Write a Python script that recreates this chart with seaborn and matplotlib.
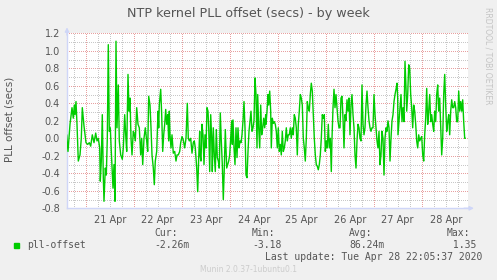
import pandas as pd
import seaborn as sns
import matplotlib.pyplot as plt
import matplotlib.dates as mdates
from matplotlib.ticker import MultipleLocator, FuncFormatter
from matplotlib.patches import Rectangle

# Munin "by week" graph style
sns.set_style("white")
plt.rcParams["font.family"] = ["DejaVu Sans"]

# ── data: hours since 20 Apr 2020 00:00 and offset in seconds ──
START = pd.Timestamp("2020-04-20 00:00")

hours = [
    # 20 Apr -> 21 Apr
    14.5, 15.15, 16.15, 17.15, 17.8, 18.3, 18.65, 19.15, 19.65, 20.3, 21.15, 21.8, 22.3, 23.15,
    24.15, 25.0, 25.8, 26.5, 27.3, 28.15, 29.0, 29.65, 30.3, 31.0, 31.3, 31.8, 32.3, 32.8,
    33.15, 33.8, 34.3, 34.8, 35.3, 35.8, 36.3, 36.8, 37.65, 38.15, 38.65, 39.15, 39.65, 40.3,
    40.8, 41.5, 42.3, 42.8, 43.5, 44.0, 44.5, 45.15, 45.65, 46.15, 46.65, 47.15, 47.8,
    # 22 Apr
    48.15, 48.8, 49.5, 50.15, 50.8, 51.5, 52.0, 52.5, 53.15, 53.8, 54.5, 55.0, 55.5, 56.15,
    56.65, 57.15, 57.8, 58.3, 58.8, 59.5, 60.15, 60.5, 60.8, 61.5, 62.0, 62.5, 63.0, 63.5,
    64.0, 64.5, 65.0, 65.5, 65.8, 66.15, 66.65, 67.15, 67.8, 68.5, 69.15, 69.65, 70.3, 71.0,
    71.5, 72.15, 72.8, 73.5, 74.15, 74.8, 75.3, 75.8, 76.5, 77.15, 77.8, 78.3, 78.8, 79.5,
    80.0, 80.5, 81.0,
    # 23 Apr
    81.15, 81.65, 82.15, 82.65, 83.15, 83.65, 84.15, 84.65, 85.15, 85.5, 86.0, 86.5, 87.0,
    87.3, 87.8, 88.3, 88.8, 89.3, 89.8, 90.3, 90.8, 91.3, 91.8, 92.3, 92.8, 93.3, 93.8, 94.5,
    95.0, 95.5, 96.0, 96.5, 97.0, 97.3, 97.65, 98.15, 98.65, 99.15, 99.65, 100.15, 100.65,
    101.15, 101.65, 102.15, 102.65, 103.15, 103.65, 104.15, 104.65, 105.15, 105.65, 106.15,
    106.65, 107.15, 107.65, 108.15, 108.65, 109.15, 109.65, 110.0, 110.5, 111.0, 111.5,
    112.0, 112.5, 113.0, 113.5, 114.0,
    # 24-25 Apr
    114.15, 114.65, 115.15, 115.5, 116.0, 116.5, 116.8, 117.3, 117.8, 118.3, 118.8, 119.3,
    119.8, 120.3, 120.8, 121.3, 121.8, 122.3, 122.8, 123.3, 123.8, 124.3, 124.8, 125.3,
    125.8, 126.3, 126.8, 127.3, 127.8, 128.3, 128.8, 129.3, 129.8, 130.3, 130.8, 131.3,
    131.8, 132.3, 132.8, 133.3, 133.8, 134.3, 134.8, 135.3, 135.8, 136.3, 136.8, 137.3,
    137.8, 138.3, 138.8, 139.3, 139.8, 140.3, 140.8, 141.3, 141.8, 142.3, 142.8, 143.3,
    143.8, 144.3, 144.8, 145.3, 145.8, 146.3, 146.8,
    # 26 Apr
    147.15, 147.65, 148.15, 148.65, 149.15, 149.65, 150.15, 150.65, 151.15, 151.65, 152.15,
    152.65, 153.15, 153.65, 154.15, 154.65, 155.15, 155.65, 156.15, 156.65, 157.15, 157.65,
    158.15, 158.65, 159.15, 159.65, 160.15, 160.65, 161.15, 161.65, 162.15, 162.65, 163.15,
    163.65, 164.15, 164.65, 165.15, 165.65, 166.15, 166.65, 167.15, 167.65, 168.15, 168.65,
    169.15, 169.65, 170.15, 170.65, 171.15, 171.65, 172.15, 172.65, 173.15, 173.65, 174.15,
    174.65, 175.15, 175.65, 176.15, 176.65, 177.15, 177.65, 178.15, 178.65, 179.15, 179.65,
    180.0,
    # 27-28 Apr
    180.15, 180.65, 181.15, 181.65, 182.15, 182.65, 183.15, 183.65, 184.15, 184.5, 185.0,
    185.5, 186.0, 186.5, 187.0, 187.5, 188.0, 188.5, 189.0, 189.5, 190.0, 190.5, 191.0,
    191.5, 192.0, 192.5, 193.0, 193.5, 194.0, 194.5, 195.0, 195.5, 196.0, 196.5, 197.0,
    197.5, 198.0, 198.5, 199.0, 199.5, 200.0, 200.5, 201.0, 201.5, 202.0, 202.5, 203.0,
    203.5, 204.0, 204.5, 205.0, 205.5, 206.0, 206.5, 207.0, 207.5, 208.0, 208.5, 209.0,
    209.5, 210.0, 210.5, 211.0, 211.5, 212.0, 212.5, 213.0, 213.5, 213.8,
]

offset = [
    # 20 Apr -> 21 Apr
    0.04, -0.15, 0.16, 0.35, 0.23, 0.38, 0.27, 0.42, 0.16, -0.26, -0.19, 0.0, 0.35, 0.14,
    -0.05, -0.07, -0.05, -0.09, 0.04, -0.05, 0.06, -0.03, 0.0, -0.11, -0.49, -0.26, 0.27, -0.45,
    -0.72, -0.34, -0.42, 0.0, 1.07, 0.08, 0.12, -0.15, -0.57, -0.3, -0.72, 1.11, 0.12, 0.61,
    -0.03, -0.19, -0.24, -0.11, 0.27, 0.04, -0.15, 0.73, 0.31, 0.46, 0.0, -0.19, 0.08,
    # 22 Apr
    0.06, -0.03, 0.35, 0.16, 0.12, -0.19, 0.0, -0.30, 0.0, 0.12, -0.03, -0.15, 0.48, 0.38,
    0.12, -0.19, -0.34, -0.53, -0.26, -0.15, 0.31, 0.12, 0.38, 0.56, 0.27, -0.15, 0.04, 0.16,
    0.33, 0.16, 0.27, -0.03, 0.31, 0.04, -0.11, 0.04, -0.17, -0.15, -0.26, -0.19, -0.19, -0.15,
    -0.05, 0.02, -0.02, -0.11, 0.0, 0.40, 0.0, -0.03, 0.0, -0.17, -0.05, -0.03, -0.11, -0.34,
    -0.61, -0.22, 0.08,
    # 23 Apr
    -0.19, -0.26, 0.16, 0.04, -0.30, 0.04, -0.11, 0.35, 0.31, 0.12, -0.38, 0.27, 0.0,
    -0.38, 0.12, -0.19, -0.38, 0.10, -0.22, -0.26, -0.34, 0.29, -0.03, -0.30, -0.70, -0.34, 0.10, -0.34,
    -0.30, -0.26, -0.19, 0.0, 0.20, -0.07, 0.21, -0.11, -0.30, 0.12, -0.22, 0.12, -0.11,
    -0.03, -0.05, 0.04, 0.20, 0.42, 0.12, -0.42, -0.45, -0.15, 0.08, 0.20,
    0.31, 0.08, 0.12, 0.20, 0.69, 0.50, -0.11, 0.50, 0.12, -0.11, 0.38,
    0.04, 0.12, 0.23, 0.12, 0.27,
    # 24-25 Apr
    0.16, 0.31, 0.50, 0.38, 0.54, 0.31, -0.11, 0.23, 0.17, 0.19, 0.16, 0.08,
    -0.11, 0.12, -0.15, -0.07, -0.19, 0.08, -0.15, -0.11, -0.03, 0.12, -0.03, 0.04,
    0.04, 0.12, 0.0, 0.12, 0.04, 0.27, 0.23, 0.12, -0.19, 0.16, 0.31, 0.50,
    0.46, 0.38, 0.0, -0.11, -0.26, 0.0, 0.42, 0.35, 0.31, 0.50, 0.63, 0.54,
    0.27, 0.0, -0.19, -0.30, -0.32, -0.36, -0.30, -0.19, 0.0, 0.27, 0.23, 0.27,
    -0.15, -0.03, -0.11, 0.16, -0.11, 0.0, -0.38,
    # 26 Apr
    0.0, 0.35, 0.56, 0.35, 0.50, 0.35, 0.20, 0.12, 0.12, 0.46, 0.48,
    0.23, -0.11, 0.27, 0.20, 0.44, 0.31, 0.46, 0.04, 0.38, 0.50, 0.27,
    0.12, -0.19, -0.34, -0.03, 0.16, 0.12, 0.0, -0.03, 0.61, 0.16, 0.04,
    0.12, 0.38, 0.54, 0.35, 0.20, 0.12, 0.08, 0.12, 0.12, 0.50, 0.27,
    0.12, -0.03, -0.11, 0.08, -0.30, -0.19, 0.08, 0.0, -0.42, 0.0, 0.12,
    0.08, 0.20, 0.12, -0.26, 0.0, 0.20, 0.27, 0.42, 0.50, 0.56, 0.63,
    0.46,
    # 27-28 Apr
    0.04, 0.19, 0.35, 0.50, 0.19, 0.35, 0.19, 0.88, 0.58, 0.31, 0.50,
    0.84, 0.80, 0.50, 0.35, 0.12, 0.38, 0.31, 0.16, -0.03, -0.11, 0.04, -0.03,
    0.0, 0.02, -0.19, -0.26, 0.04, 0.23, 0.57, 0.16, 0.31, 0.50, 0.19, 0.27,
    0.16, 0.08, 0.31, 0.19, 0.50, 0.61, 0.31, 0.46, 0.12, -0.19, 0.0, 0.50,
    0.73, 0.38, 0.08, 0.19, 0.27, 0.04, 0.31, 0.44, 0.35, 0.35, 0.42, 0.35,
    0.19, 0.19, 0.54, 0.31, 0.42, 0.31, 0.44, 0.19, 0.0, 0.0,
]
assert len(hours) == len(offset), (len(hours), len(offset))

stat_names = ["Cur:", "Min:", "Avg:", "Max:"]
stat_values = ["-2.26m", "-3.18", "86.24m", " 1.35"]

df = pd.DataFrame({
    "time": START + pd.to_timedelta(hours, unit="h"),
    "offset": offset,
})

# ── figure: 497 x 280 px ──
W, H = 497, 280
BG = "#F0F0F0"
FONT = "#555555"
GRID = "#C8C8C8"
MGRID = "#E8A0A0"
AXIS = "#CFD6F8"

fig = plt.figure(figsize=(W / 100, H / 100), dpi=100, facecolor=BG)
ax = fig.add_axes([67 / W, 1 - 208.3 / H, 401 / W, 175 / H])
ax.set_facecolor("white")

sns.lineplot(data=df, x="time", y="offset", color="#00CC00", linewidth=1.0, ax=ax, zorder=3)

ax.set_xlim(START + pd.Timedelta(hours=14.65), START + pd.Timedelta(hours=215.15))
ax.set_ylim(-0.8, 1.2)

# y grid: red every 0.2, grey every 0.1
ax.yaxis.set_major_locator(MultipleLocator(0.2))
ax.yaxis.set_minor_locator(MultipleLocator(0.1))
ax.yaxis.set_major_formatter(FuncFormatter(lambda v, _: f"{round(v, 1) + 0.0:.1f}"))

# x: labels at noon, grey grid every 6 h, red grid at midnight
ax.xaxis.set_major_locator(mdates.HourLocator(byhour=[12]))
ax.xaxis.set_major_formatter(mdates.DateFormatter("%d %b"))
ax.xaxis.set_minor_locator(mdates.HourLocator(byhour=[0, 6, 12, 18]))
ax.xaxis.remove_overlapping_locs = False

dots = dict(linestyle=(0, (1, 1.2)), linewidth=0.72, antialiased=False)
ax.grid(which="minor", axis="both", color=GRID, zorder=0, **dots)
ax.grid(which="major", axis="y", color=MGRID, zorder=1, **dots)
for day in pd.date_range("2020-04-21", "2020-04-28", freq="D"):
    ax.axvline(day, color=MGRID, zorder=1, **dots)
ax.set_axisbelow(True)

ax.tick_params(axis="x", which="both", length=0, pad=4.5, labelsize=7, labelcolor=FONT)
ax.tick_params(axis="y", which="major", length=2, width=0.7, color=MGRID, pad=3,
               labelsize=7, labelcolor=FONT)
ax.tick_params(axis="y", which="minor", length=0)
ax.set_xlabel("")
ax.set_ylabel("")

for side in ["top", "right"]:
    ax.spines[side].set_visible(False)
for side in ["left", "bottom"]:
    ax.spines[side].set_color(AXIS)
    ax.spines[side].set_linewidth(1.0)

arrow = dict(arrowstyle="-|>", color=AXIS, lw=1.0, mutation_scale=6, shrinkA=0, shrinkB=0)
ax.annotate("", xy=(0, 1 + 6 / 175), xytext=(0, 0.99), xycoords="axes fraction",
            arrowprops=arrow, annotation_clip=False)
ax.annotate("", xy=(1 + 6 / 401, 0), xytext=(0.99, 0), xycoords="axes fraction",
            arrowprops=arrow, annotation_clip=False)


def fx(px):
    return px / W


def fy(py):
    return 1 - py / H


fig.text(fx(248), fy(13), "NTP kernel PLL offset (secs) - by week",
         ha="center", va="center", fontsize=9.2, color=FONT)
fig.text(fx(10), fy(119), "PLL offset (secs)", rotation=90,
         ha="center", va="center", fontsize=7.5, color=FONT)
fig.text(fx(488), fy(56), "RRDTOOL / TOBI OETIKER", rotation=270,
         ha="center", va="center", fontsize=5.5, color="#C4C4C4")

# legend block (monospace, like rrdtool)
mono = dict(family="DejaVu Sans Mono", fontsize=7, color=FONT, va="center")
fig.patches.append(Rectangle((fx(14), fy(247.5)), 5 / W, 5 / H,
                             transform=fig.transFigure, color="#00CC00"))
fig.text(fx(26.7), fy(245), "pll-offset", ha="left", **mono)
for name, value, left in zip(stat_names, stat_values, [154.3, 252, 349.3, 446.7]):
    fig.text(fx(left), fy(233), name, ha="left", **mono)
    fig.text(fx(left), fy(245), value, ha="left", **mono)
fig.text(fx(482.5), fy(257), "Last update: Tue Apr 28 22:05:37 2020", ha="right", **mono)
fig.text(fx(248), fy(269), "Munin 2.0.37-1ubuntu0.1", ha="center", va="center",
         fontsize=5.5, color="#CCCCCC")

fig.savefig("out.png", dpi=100, facecolor=BG)
